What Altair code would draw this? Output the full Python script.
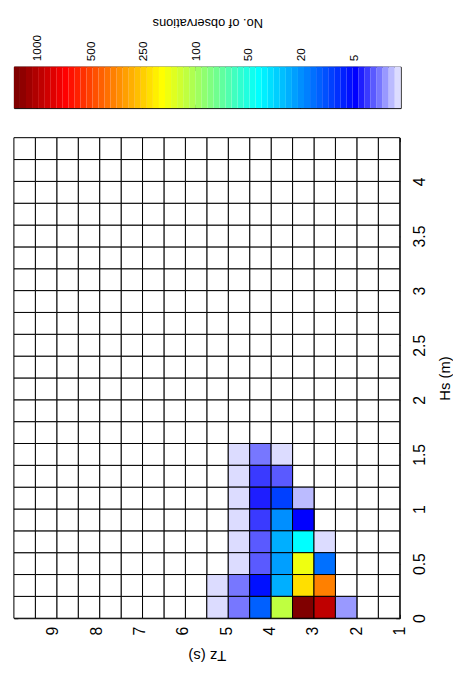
import altair as alt
import numpy as np
import pandas as pd

# ---------------- data ----------------
# Tz bins: index 0 = lowest Tz bin (right-hand column), Hs bins: index 0 = 0-0.2 m
TZ_MIN, TZ_MAX, TZ_NBINS = 1.0, 9.9, 18
HS_MIN, HS_MAX, HS_NBINS = 0.0, 4.4, 22

TZ_BIN = [7, 6, 5,
          7, 6, 5,
          7, 6, 5, 4,
          7, 6, 5, 4,
          7, 6, 5, 4, 3,
          7, 6, 5, 4, 3,
          8, 7, 6, 5, 4, 3,
          8, 7, 6, 5, 4, 3, 2]
HS_BIN = [7] * 3 + [6] * 3 + [5] * 4 + [4] * 4 + [3] * 5 + [2] * 5 + [1] * 6 + [0] * 7
# colour level (1..64) of each cell
LEVEL = [1, 4, 1,
         1, 6, 5,
         1, 7, 12, 2,
         1, 6, 17, 8,
         1, 5, 19, 24, 1,
         1, 5, 18, 39, 15,
         1, 4, 9, 19, 42, 48,
         1, 4, 14, 36, 64, 60, 3]

CB_TICK_LEVEL = [60.8, 51.9, 43.2, 34.4, 25.8, 17.1, 8.28]
CB_TICK_LABEL = ["1000", "500", "250", "100", "50", "20", "5"]
TZ_TICKS = [1, 2, 3, 4, 5, 6, 7, 8, 9]
HS_TICKS = [0, 0.5, 1, 1.5, 2, 2.5, 3, 3.5, 4]

# ---------------- colour map (jet 64 with light low end) ----------------
def jet(m=64):
    n = int(np.ceil(m / 4))
    u = np.concatenate([np.arange(1, n + 1) / n, np.ones(n - 1), np.arange(n, 0, -1) / n])
    g = int(np.ceil(n / 2)) - (1 if m % 4 == 1 else 0) + np.arange(1, len(u) + 1)
    r = g + n
    b = g - n
    g = g[g <= m]
    r = r[r <= m]
    b = b[b >= 1]
    J = np.zeros((m, 3))
    J[r - 1, 0] = u[:len(r)]
    J[g - 1, 1] = u[:len(g)]
    J[b - 1, 2] = u[len(u) - len(b):]
    return J

LOW_RAMP = ["#dcdcff", "#bbbbff", "#9999ff", "#7777ff", "#5a5aff", "#3a3aff", "#1e1eff"]
COLORS = ["#%02x%02x%02x" % tuple(int(round(v * 255)) for v in row) for row in jet(64)]
COLORS[:len(LOW_RAMP)] = LOW_RAMP

FONT = "Liberation Sans"
CB_W, CB_H = 392, 42
W, H = 391, 487

cscale = alt.Scale(type="quantize", domain=[0.5, 64.5], range=COLORS, nice=False)


def tick_axis(orient, values, offset):
    return alt.Axis(orient=orient, values=values, offset=offset, labels=False,
                    domain=False, grid=False, ticks=True, tickSize=4,
                    tickColor="black", tickWidth=1, title=None)


# ---------------- colour bar ----------------
cb_df = pd.DataFrame({"level": list(range(1, 65))})
label_expr = ""
for v, l in zip(CB_TICK_LEVEL, CB_TICK_LABEL):
    label_expr += f"abs(datum.value - {v}) < 0.01 ? '{l}' : "
label_expr += "''"

cb_axis = alt.Axis(
    orient="top", values=CB_TICK_LEVEL, labelExpr=label_expr,
    ticks=False, domain=False, grid=False, labelFlush=False, labelOverlap=False,
    labelAngle=270, labelAlign="left", labelBaseline="middle", labelPadding=6,
    labelFontSize=12, labelColor="black", labelFont=FONT,
    title="No. of observations", titleAngle=180, titleBaseline="middle",
    titleAlign="center", titleY=-45, titleFontSize=13, titleFontWeight="normal",
    titleColor="black", titleFont=FONT,
)
cb_xscale = alt.Scale(domain=[0.5, 64.5], reverse=True, nice=False, zero=False)
cb_yscale = alt.Scale(domain=[0, 1], nice=False, zero=False)

cb_base = alt.Chart(cb_df).transform_calculate(
    lo="datum.level - 0.5", hi="datum.level + 0.5", b="0", t="1"
)
cb_y = dict(y=alt.Y("b:Q", scale=cb_yscale, axis=None), y2="t:Q")
cb_main = cb_base.mark_rect(strokeWidth=0).encode(
    x=alt.X("lo:Q", scale=cb_xscale, axis=cb_axis),
    x2="hi:Q",
    color=alt.Color("level:Q", scale=cscale, legend=None),
    **cb_y,
)
cb_ticks_bottom = cb_base.mark_rect(opacity=0).encode(
    x=alt.X("lo:Q", scale=cb_xscale, axis=tick_axis("top", CB_TICK_LEVEL, -CB_H)),
    x2="hi:Q",
    **cb_y,
)
cb_ticks_top = cb_base.mark_rect(opacity=0).encode(
    x=alt.X("lo:Q", scale=cb_xscale, axis=tick_axis("bottom", CB_TICK_LEVEL, -CB_H)),
    x2="hi:Q",
    **cb_y,
)
colorbar = alt.layer(cb_main, cb_ticks_bottom, cb_ticks_top).resolve_axis(
    x="independent"
).properties(width=CB_W, height=CB_H)

# ---------------- heat map ----------------
TZ_STEP = (TZ_MAX - TZ_MIN) / TZ_NBINS
HS_STEP = (HS_MAX - HS_MIN) / HS_NBINS

grid_df = pd.DataFrame([(j, i) for j in range(TZ_NBINS) for i in range(HS_NBINS)],
                       columns=["tz_bin", "hs_bin"])
cells_df = pd.DataFrame({"tz_bin": TZ_BIN, "hs_bin": HS_BIN, "level": LEVEL})

calc = dict(
    tz_lo=f"{TZ_MIN} + datum.tz_bin * {TZ_STEP}",
    tz_hi=f"{TZ_MIN} + (datum.tz_bin + 1) * {TZ_STEP}",
    hs_lo=f"{HS_MIN} + datum.hs_bin * {HS_STEP}",
    hs_hi=f"{HS_MIN} + (datum.hs_bin + 1) * {HS_STEP}",
)

x_axis = alt.Axis(
    orient="bottom", values=TZ_TICKS, ticks=False, domain=False, grid=False,
    labelFlush=False, labelOverlap=False,
    labelAngle=270, labelAlign="right", labelBaseline="middle", labelPadding=8,
    labelFontSize=16, labelColor="black", labelFont=FONT,
    title="Tz (s)", titleAngle=180, titleBaseline="middle", titleAlign="center",
    titleY=38, titleFontSize=15, titleFontWeight="normal", titleColor="black", titleFont=FONT,
)
y_axis = alt.Axis(
    orient="right", values=HS_TICKS, format="~g", ticks=False, domain=False, grid=False,
    labelFlush=False, labelOverlap=False,
    labelAngle=270, labelAlign="center", labelBaseline="top", labelPadding=12,
    labelFontSize=16, labelColor="black", labelFont=FONT,
    title="Hs (m)", titleAngle=270, titleBaseline="middle", titleAlign="center",
    titleX=45, titleFontSize=15, titleFontWeight="normal", titleColor="black", titleFont=FONT,
)
x_scale = alt.Scale(domain=[TZ_MIN, TZ_MAX], reverse=True, nice=False, zero=False)
y_scale = alt.Scale(domain=[HS_MIN, HS_MAX], nice=False, zero=False)

grid = alt.Chart(grid_df).transform_calculate(**calc).mark_rect(
    fill="white", stroke="black", strokeWidth=1
).encode(
    x=alt.X("tz_lo:Q", scale=x_scale, axis=x_axis),
    x2="tz_hi:Q",
    y=alt.Y("hs_lo:Q", scale=y_scale, axis=y_axis),
    y2="hs_hi:Q",
)

cells = alt.Chart(cells_df).transform_calculate(**calc).mark_rect(
    stroke="black", strokeWidth=1
).encode(
    x=alt.X("tz_lo:Q", scale=x_scale, axis=tick_axis("top", TZ_TICKS, -H)),
    x2="tz_hi:Q",
    y=alt.Y("hs_lo:Q", scale=y_scale, axis=tick_axis("left", HS_TICKS, -W)),
    y2="hs_hi:Q",
    color=alt.Color("level:Q", scale=cscale, legend=None),
)

inner_ticks = alt.Chart(cells_df).transform_calculate(**calc).mark_rect(opacity=0).encode(
    x=alt.X("tz_lo:Q", scale=x_scale, axis=tick_axis("bottom", TZ_TICKS, -H)),
    x2="tz_hi:Q",
    y=alt.Y("hs_lo:Q", scale=y_scale, axis=tick_axis("right", HS_TICKS, -W)),
    y2="hs_hi:Q",
)

heat = alt.layer(grid, cells, inner_ticks).resolve_axis(
    x="independent", y="independent"
).properties(width=W, height=H)

chart = alt.vconcat(colorbar, heat, spacing=28).properties(
    background="white",
    padding={"left": 5, "top": 2, "right": 0, "bottom": 0},
).configure_view(stroke="black", strokeWidth=1)

chart.save("out.html", embed_options={"renderer": "svg", "actions": False})
